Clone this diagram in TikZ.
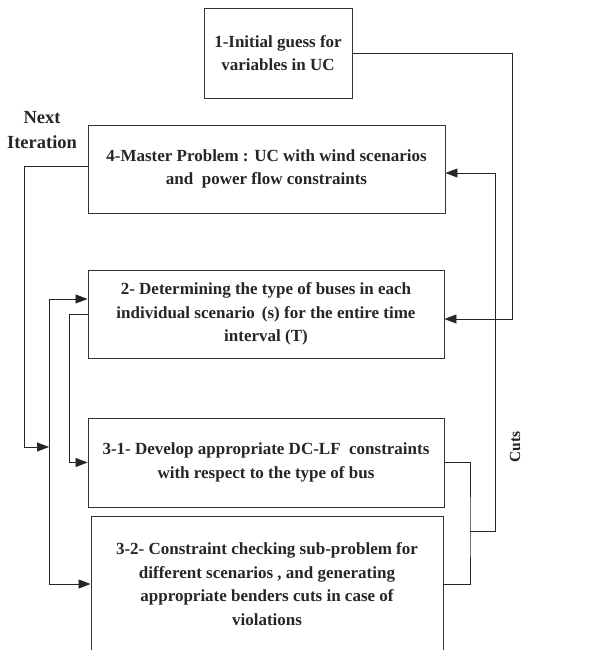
\documentclass[tikz,border=0pt]{standalone}
\usepackage{fontspec}
\setmainfont{Liberation Serif}
\usetikzlibrary{arrows.meta,positioning}

\begin{document}
\begin{tikzpicture}[x=1pt,y=1pt]
%page size of the reference, box 3-2 runs past the bottom edge
\clip (0,0) rectangle (608,-650);
\tikzstyle{box}=[draw=black!80, line width=0.9pt, inner sep=0pt, align=center, text=black!85, font=\fontsize{17}{23.5}\selectfont\bfseries]
\tikzstyle{lab}=[text=black!85, align=center, font=\fontsize{18.5}{25}\selectfont\bfseries]
\tikzstyle{arr}=[draw=black!85, line width=0.8pt, -{Triangle[length=12pt,width=9pt]}]
\tikzstyle{line}=[draw=black!85, line width=0.8pt]
\node[box, minimum width=148, minimum height=90](init) at (278,-53) {1-Initial guess for\\variables in UC};
\node[box, minimum width=357, minimum height=88](master) at (266.5,-169) {4-Master Problem : UC with wind scenarios\\and \ power flow constraints};
\node[box, minimum width=356, minimum height=88](bustype) at (266,-314) {2- Determining the type of buses in each\\individual scenario \,(s) for the entire time\\interval (T)};
\node[box, minimum width=356, minimum height=89](dclf) at (266,-462.5) {3-1- Develop appropriate DC-LF \ constraints\\with respect to the type of bus};
\node[box, minimum width=352, minimum height=136](check) at (267,-584) {3-2- Constraint checking sub-problem for\\different scenarios , and generating\\appropriate benders cuts in case of\\violations};
\node[lab](next) at (42,-130) {Next\\Iteration};
\node[lab, rotate=90, font=\fontsize{15.5}{18}\selectfont\bfseries](cuts) at (515,-447) {Cuts};
\coordinate (r1) at (512,-319);
\coordinate (j) at (470,-531);
\coordinate (r2) at (495,-531);
\coordinate (l1) at (24,-447);
\coordinate (l2) at (49,-299);
\coordinate (l3) at (69,-314);
\draw[arr] (init.east) -| (r1) -- (r1 -| bustype.east);
\draw[line] (dclf.east) -| (j) |- (check.east);
\draw[arr] (j) -- (r2) |- ([yshift=-4pt]master.east);
\draw[arr] ([yshift=3pt]master.west) -| (l1) -- (l1 -| l2);
\draw[arr] (l2) -- (l2 -| bustype.west);
\draw[arr] (l2) |- (check.west);
\draw[arr] (bustype.west) -- (l3) |- (dclf.west);
\end{tikzpicture}
\end{document}
